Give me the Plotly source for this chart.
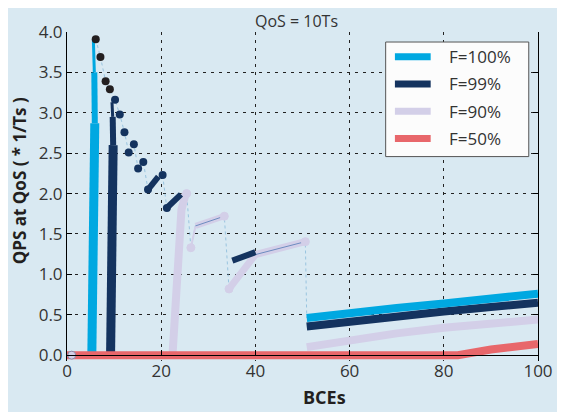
import plotly.graph_objects as go

# ---------------- data ----------------
chart_title = "QoS = 10Ts"
x_title = "BCEs"
y_title = "QPS at QoS ( * 1/Ts )"
series_names = ["F=100%", "F=99%", "F=90%", "F=50%"]

x_ticks = [0, 20, 40, 60, 80, 100]
y_ticks = [0.0, 0.5, 1.0, 1.5, 2.0, 2.5, 3.0, 3.5, 4.0]

# F=100%  (rise, tail)
f100_rise_x = [5.27, 5.9, 5.8, 5.6]
f100_rise_y = [0.0, 2.87, 3.5, 3.9]
f100_tail_x = [50.9, 60, 70, 80, 90, 100]
f100_tail_y = [0.46, 0.53, 0.585, 0.64, 0.70, 0.76]
# thin sawtooth path of the saturated region
saw_x = [6.1, 7.1, 8.2, 9.1, 10.2, 11.2, 12.2, 13.1, 14.2, 15.1, 16.2, 17.2,
         20.3, 21.2, 25.4, 26.3, 27.3, 33.4, 34.4, 40.0, 50.6, 50.9]
saw_y = [3.91, 3.69, 3.39, 3.29, 3.16, 2.98, 2.76, 2.51, 2.61, 2.31, 2.39, 2.05,
         2.23, 1.82, 2.0, 1.33, 1.61, 1.72, 0.82, 1.25, 1.41, 0.46]
peak_x = [6.1, 7.1, 8.2, 9.1]
peak_y = [3.91, 3.69, 3.39, 3.29]

# F=99%
f99_rise_x = [9.25, 9.8, 9.7, 9.55]
f99_rise_y = [0.0, 2.6, 2.95, 3.13]
f99_dot_x = [10.2, 11.2, 12.2, 13.1, 14.2, 15.1, 16.2, 17.2, 20.3, 21.2]
f99_dot_y = [3.16, 2.98, 2.76, 2.51, 2.61, 2.31, 2.39, 2.05, 2.23, 1.82]
f99_steps = [([17.2, 19.4], [2.05, 2.21]),
             ([21.5, 24.2], [1.84, 1.99]),
             ([35.1, 40.0], [1.17, 1.275])]
f99_tail_x = [50.9, 60, 70, 80, 90, 100]
f99_tail_y = [0.355, 0.42, 0.48, 0.54, 0.595, 0.65]

# F=90%
f90_rise_x = [22.4, 23.5, 24.3, 25.2]
f90_rise_y = [0.0, 0.9, 1.8, 2.0]
f90_seg_a_x = [26.3, 27.3]
f90_seg_a_y = [1.33, 1.6]
f90_seg_b_x = [27.3, 33.4]
f90_seg_b_y = [1.6, 1.72]
f90_seg_c_x = [34.4, 40.0, 50.6]
f90_seg_c_y = [0.82, 1.245, 1.405]
f90_dot_x = [1.0, 25.4, 26.3, 33.4, 34.4, 50.6]
f90_dot_y = [0.0, 2.0, 1.33, 1.72, 0.82, 1.405]
f90_tail_x = [50.9, 60, 70, 80, 90, 100]
f90_tail_y = [0.10, 0.19, 0.27, 0.34, 0.40, 0.44]

# F=50%
f50_x = [0, 83, 90, 95, 100]
f50_y = [0.0, 0.0, 0.07, 0.10, 0.14]

# ---------------- style ----------------
C100 = "#00a8e1"
C99 = "#14335f"
C90 = "#d3cfe8"
C50 = "#e8676b"
CBLACK = "#231f20"
BG = "#d9e9f2"
TXT = "#333333"
FONT = "Open Sans"

OFF = 8                      # page body margin of the html page
W, H = 565 - OFF, 412 - OFF  # figure size so that it fills the window
PL, PR, PT = 67, 541, 23     # plot area edges in page px
P_ZERO = 355                 # page px of y = 0 (x axis line)
PB = 361                     # plot area bottom, a little below y = 0 so thick lines are not cut
Y_TOP = 4.0
y_min = -Y_TOP * (PB - P_ZERO) / (P_ZERO - PT)


def px2paper_x(px):
    return (px - PL) / (PR - PL)


def px2paper_y(py):
    return (PB - py) / (PB - PT)


fig = go.Figure()


def line(x, y, color, width, dash="solid", opacity=1.0):
    fig.add_trace(go.Scatter(x=x, y=y, mode="lines", showlegend=False,
                             line=dict(color=color, width=width, dash=dash),
                             opacity=opacity, cliponaxis=False,
                             hoverinfo="skip"))


def segments(xs, ys, color, widths):
    for i, w in enumerate(widths):
        line(xs[i:i + 2], ys[i:i + 2], color, w)


# thin path
line(saw_x, saw_y, "#7fb6d9", 1, dash="dot", opacity=0.7)

# F=90%
line(f90_rise_x, f90_rise_y, C90, 8)
line(f90_seg_a_x, f90_seg_a_y, C90, 2)
line(f90_seg_b_x, f90_seg_b_y, C90, 6)
line(f90_seg_c_x, f90_seg_c_y, C90, 7)
line(f90_tail_x, f90_tail_y, C90, 8)
# thin blue outline along lavender segments
line(f90_seg_b_x, f90_seg_b_y, "#6d8cc0", 1)
line(f90_seg_c_x[1:], f90_seg_c_y[1:], "#6d8cc0", 1)

# F=99%
segments(f99_rise_x, f99_rise_y, C99, [9, 6, 3])
for sx, sy in f99_steps:
    line(sx, sy, C99, 6)
line(f99_tail_x, f99_tail_y, C99, 8)

# F=100%
segments(f100_rise_x, f100_rise_y, C100, [9, 6, 3])
line(f100_tail_x, f100_tail_y, C100, 8)

# F=50%
line(f50_x, f50_y, C50, 8)

# markers
fig.add_trace(go.Scatter(x=peak_x, y=peak_y, mode="markers", showlegend=False,
                         marker=dict(color=CBLACK, size=8), cliponaxis=False))
fig.add_trace(go.Scatter(x=f99_dot_x, y=f99_dot_y, mode="markers", showlegend=False,
                         marker=dict(color=C99, size=8), cliponaxis=False))
fig.add_trace(go.Scatter(x=f90_dot_x, y=f90_dot_y, mode="markers", showlegend=False,
                         marker=dict(color=C90, size=8,
                                     line=dict(color=["#8a88a8"] + [C90] * (len(f90_dot_x) - 1), width=1)),
                         cliponaxis=False))

# ---------------- manual legend ----------------
legend_colors = [C100, C99, C90, C50]
box_l, box_r, box_t, box_b = 387.7, 531.7, 33.3, 151.0
fig.add_shape(type="rect", xref="paper", yref="paper",
              x0=px2paper_x(box_l), x1=px2paper_x(box_r),
              y0=px2paper_y(box_b), y1=px2paper_y(box_t),
              fillcolor="#fcfcfc", line=dict(color="#555555", width=1))
for i, (name, col) in enumerate(zip(series_names, legend_colors)):
    yy = px2paper_y(48.3 + 28 * i)
    fig.add_shape(type="line", xref="paper", yref="paper",
                  x0=px2paper_x(397), x1=px2paper_x(433), y0=yy, y1=yy,
                  line=dict(color=col, width=7))
    fig.add_annotation(text=name, xref="paper", yref="paper",
                       x=px2paper_x(449), y=yy, xanchor="left", yanchor="middle",
                       showarrow=False, font=dict(family=FONT, size=17, color=TXT))

# ---------------- titles ----------------
fig.add_annotation(text=chart_title, xref="paper", yref="paper",
                   x=px2paper_x(297.5), y=px2paper_y(12), xanchor="center", yanchor="middle",
                   showarrow=False, font=dict(family=FONT, size=16, color=TXT))
fig.add_annotation(text="<b>" + x_title + "</b>", xref="paper", yref="paper",
                   x=px2paper_x(326.5), y=px2paper_y(398), xanchor="center", yanchor="middle",
                   showarrow=False, font=dict(family=FONT, size=18, color=CBLACK))
fig.add_annotation(text="<b>" + y_title + "</b>", xref="paper", yref="paper",
                   x=px2paper_x(20), y=px2paper_y(176), xanchor="center", yanchor="middle",
                   textangle=-90, showarrow=False,
                   font=dict(family=FONT, size=17, color=CBLACK))

axis_common = dict(showline=True, linecolor="black", linewidth=1, mirror="ticks",
                   ticks="inside", ticklen=5, tickcolor="black", tickwidth=1,
                   showgrid=True, gridcolor="#222222", gridwidth=1, griddash="3px,5px",
                   zeroline=False, tickfont=dict(family=FONT, size=17, color=TXT))

fig.update_layout(
    width=W, height=H,
    margin=dict(l=PL - OFF, r=565 - PR, t=PT - OFF, b=412 - PB),
    paper_bgcolor=BG, plot_bgcolor=BG,
    showlegend=False,
    xaxis=dict(range=[0, 100], tickvals=x_ticks, ticktext=[str(v) for v in x_ticks],
               anchor="free", position=px2paper_y(P_ZERO), **axis_common),
    yaxis=dict(range=[y_min, Y_TOP], tickvals=y_ticks, ticktext=[f"{v:.1f}" for v in y_ticks],
               **axis_common),
)

fig.write_html("out.html")
